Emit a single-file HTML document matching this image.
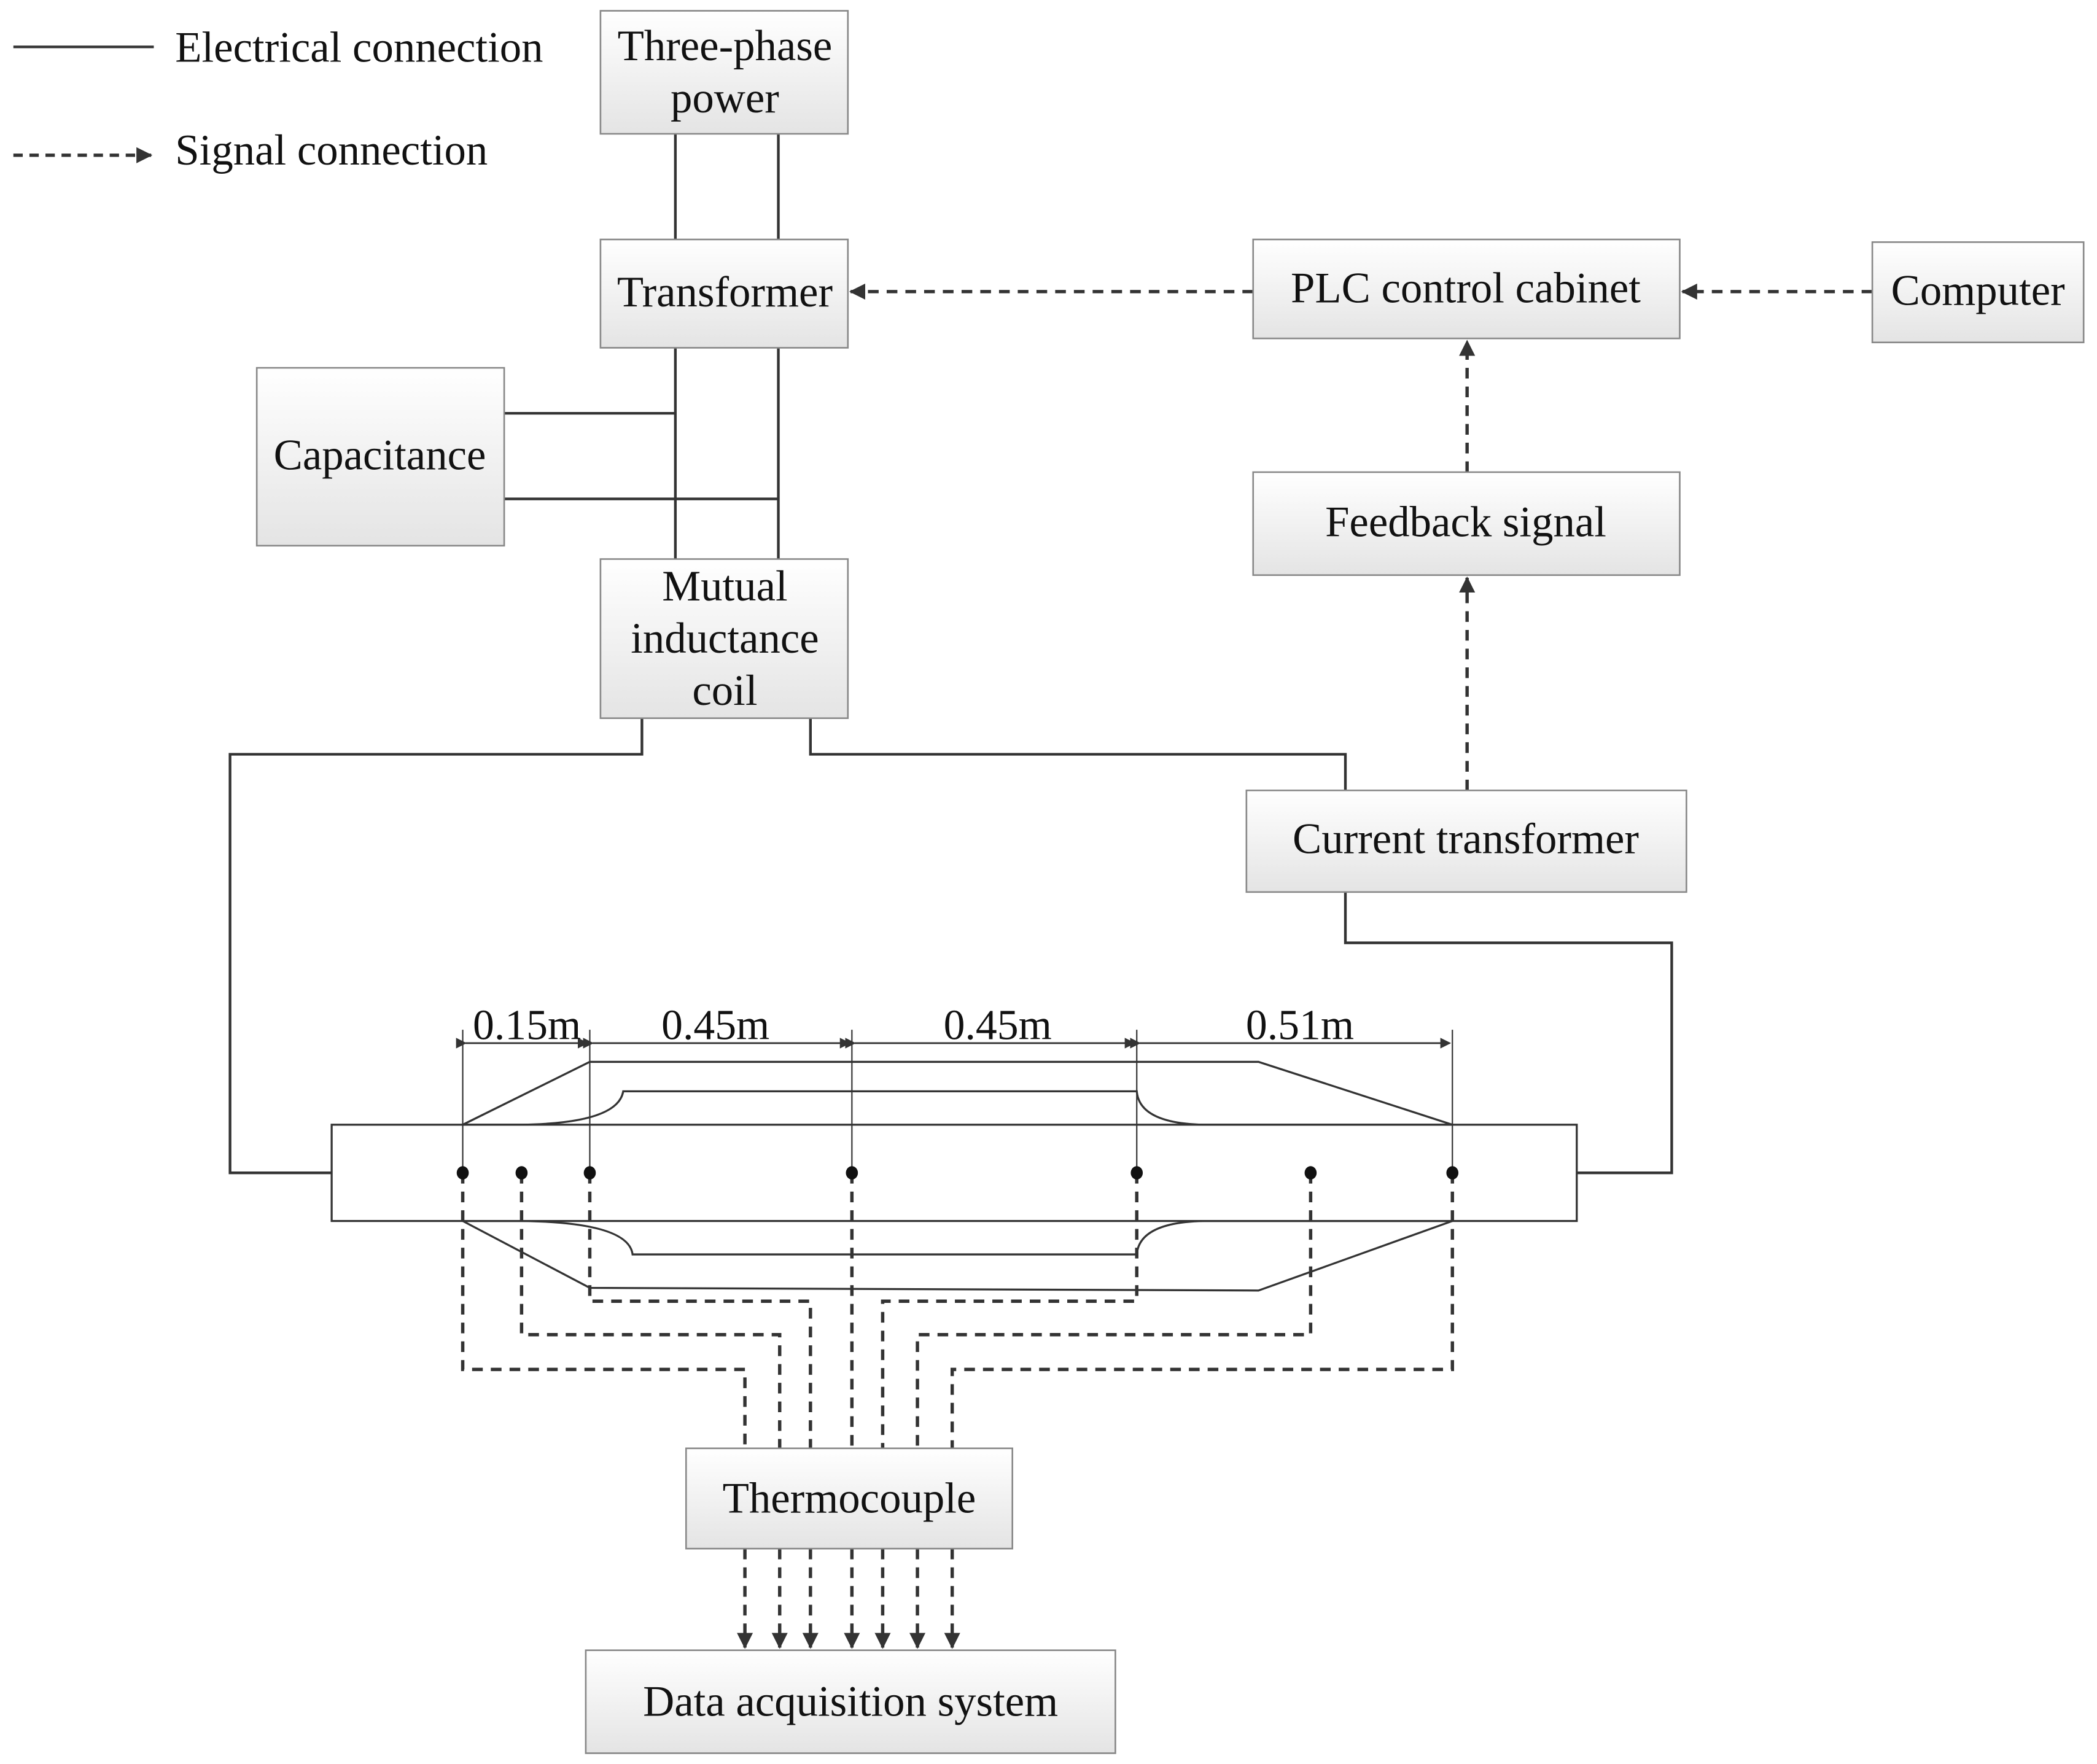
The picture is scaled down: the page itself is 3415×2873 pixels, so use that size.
<!DOCTYPE html>
<html><head><meta charset="utf-8"><style>
html,body{margin:0;padding:0;background:#fff;}
svg{display:block;}
text{font-family:"Liberation Serif",serif;fill:#111;}
</style></head><body>
<svg width="3415" height="2873" viewBox="0 0 1568 1319" xmlns="http://www.w3.org/2000/svg">
<defs>
<linearGradient id="g" x1="0" y1="0" x2="0" y2="1"><stop offset="0" stop-color="#ffffff"/><stop offset="1" stop-color="#e4e4e4"/></linearGradient>
<marker id="a" markerWidth="12" markerHeight="12" refX="11" refY="6" orient="auto" markerUnits="userSpaceOnUse"><path d="M0,0 L12,6 L0,12 z" fill="#333"/></marker>
<marker id="d" markerWidth="8" markerHeight="8" refX="7" refY="4" orient="auto" markerUnits="userSpaceOnUse"><path d="M0,0 L8,4 L0,8 z" fill="#333"/></marker>
</defs>
<rect width="1568" height="1319" fill="#fff"/>
<line x1="10" y1="35" x2="115" y2="35" stroke="#333" stroke-width="2"/>
<text x="131" y="46" font-size="32.5">Electrical connection</text>
<line x1="10" y1="116" x2="113" y2="116" stroke="#333" stroke-width="2.5" stroke-dasharray="7,5" marker-end="url(#a)"/>
<text x="131" y="123" font-size="32.5">Signal connection</text>

<g fill="none" stroke="#333" stroke-width="2">
<line x1="505" y1="100" x2="505" y2="179"/><line x1="582" y1="100" x2="582" y2="179"/>
<line x1="505" y1="260" x2="505" y2="418"/><line x1="582" y1="260" x2="582" y2="418"/>
<line x1="377" y1="309" x2="505" y2="309"/><line x1="377" y1="373" x2="582" y2="373"/>
<polyline points="480,537 480,564 172,564 172,877 248,877"/>
<polyline points="606,537 606,564 1006,564 1006,591"/>
<polyline points="1006,667 1006,705 1250,705 1250,877 1179,877"/>
</g>
<g fill="none" stroke="#333" stroke-width="2.5" stroke-dasharray="8,6">
<line x1="937" y1="218" x2="636" y2="218" marker-end="url(#a)"/>
<line x1="1400" y1="218" x2="1258" y2="218" marker-end="url(#a)"/>
<line x1="1097" y1="353" x2="1097" y2="255" marker-end="url(#a)"/>
<line x1="1097" y1="591" x2="1097" y2="432" marker-end="url(#a)"/>
<polyline points="346,877 346,1024 557,1024 557,1083"/>
<polyline points="390,877 390,998 583,998 583,1083"/>
<polyline points="441,877 441,973 606,973 606,1083"/>
<polyline points="637,877 637,1083"/>
<polyline points="850,877 850,973 660,973 660,1083"/>
<polyline points="980,877 980,998 686,998 686,1083"/>
<polyline points="1086,877 1086,1024 712,1024 712,1083"/>
<line x1="557" y1="1158" x2="557" y2="1232" marker-end="url(#a)"/>
<line x1="583" y1="1158" x2="583" y2="1232" marker-end="url(#a)"/>
<line x1="606" y1="1158" x2="606" y2="1232" marker-end="url(#a)"/>
<line x1="637" y1="1158" x2="637" y2="1232" marker-end="url(#a)"/>
<line x1="660" y1="1158" x2="660" y2="1232" marker-end="url(#a)"/>
<line x1="686" y1="1158" x2="686" y2="1232" marker-end="url(#a)"/>
<line x1="712" y1="1158" x2="712" y2="1232" marker-end="url(#a)"/>
</g>
<g fill="none" stroke="#333" stroke-width="1.5">
<rect x="248" y="841" width="931" height="72"/>
<polyline points="346,841 441,794 941,794 1086,841"/>
<polyline points="346,913 441,963 941,965 1086,913"/>
<path d="M346,841 L390,841 Q462,840 466,816 L850,816 Q852,840 900,841 L1086,841"/>
<path d="M346,913 L390,913 Q470,914 473,938 L850,938 Q852,914 900,913 L1086,913"/>
</g>
<g stroke="#333" stroke-width="1">
<line x1="346" y1="770" x2="346" y2="877"/><line x1="441" y1="770" x2="441" y2="877"/>
<line x1="637" y1="770" x2="637" y2="877"/><line x1="850" y1="770" x2="850" y2="877"/>
<line x1="1086" y1="770" x2="1086" y2="877"/>
</g>
<g stroke="#333" stroke-width="1.3">
<line x1="348" y1="780" x2="439" y2="780" marker-start="url(#d)" marker-end="url(#d)"/>
<line x1="443" y1="780" x2="635" y2="780" marker-start="url(#d)" marker-end="url(#d)"/>
<line x1="639" y1="780" x2="848" y2="780" marker-start="url(#d)" marker-end="url(#d)"/>
<line x1="852" y1="780" x2="1084" y2="780" marker-start="url(#d)" marker-end="url(#d)"/>
</g>
<g font-size="32" text-anchor="middle">
<text x="394" y="777">0.15m</text><text x="535" y="777">0.45m</text>
<text x="746" y="777">0.45m</text><text x="972" y="777">0.51m</text>
</g>
<g fill="#111">
<ellipse cx="346" cy="877" rx="4.5" ry="5"/><ellipse cx="390" cy="877" rx="4.5" ry="5"/>
<ellipse cx="441" cy="877" rx="4.5" ry="5"/><ellipse cx="637" cy="877" rx="4.5" ry="5"/>
<ellipse cx="850" cy="877" rx="4.5" ry="5"/><ellipse cx="980" cy="877" rx="4.5" ry="5"/>
<ellipse cx="1086" cy="877" rx="4.5" ry="5"/>
</g>
<g fill="url(#g)" stroke="#888" stroke-width="1.2">
<rect x="449" y="8" width="185" height="92"/>
<rect x="449" y="179" width="185" height="81"/>
<rect x="192" y="275" width="185" height="133"/>
<rect x="449" y="418" width="185" height="119"/>
<rect x="937" y="179" width="319" height="74"/>
<rect x="1400" y="181" width="158" height="75"/>
<rect x="937" y="353" width="319" height="77"/>
<rect x="932" y="591" width="329" height="76"/>
<rect x="513" y="1083" width="244" height="75"/>
<rect x="438" y="1234" width="396" height="77"/>
</g>
<g font-size="32.5" text-anchor="middle">
<text x="542" y="45">Three-phase</text><text x="542" y="84">power</text>
<text x="542" y="229">Transformer</text>
<text x="284" y="351">Capacitance</text>
<text x="542" y="449">Mutual</text><text x="542" y="488">inductance</text><text x="542" y="527">coil</text>
<text x="1096" y="226">PLC control cabinet</text>
<text x="1479" y="228">Computer</text>
<text x="1096" y="401">Feedback signal</text>
<text x="1096" y="638">Current transformer</text>
<text x="635" y="1131">Thermocouple</text>
<text x="636" y="1283">Data acquisition system</text>
</g>
</svg>
</body></html>
